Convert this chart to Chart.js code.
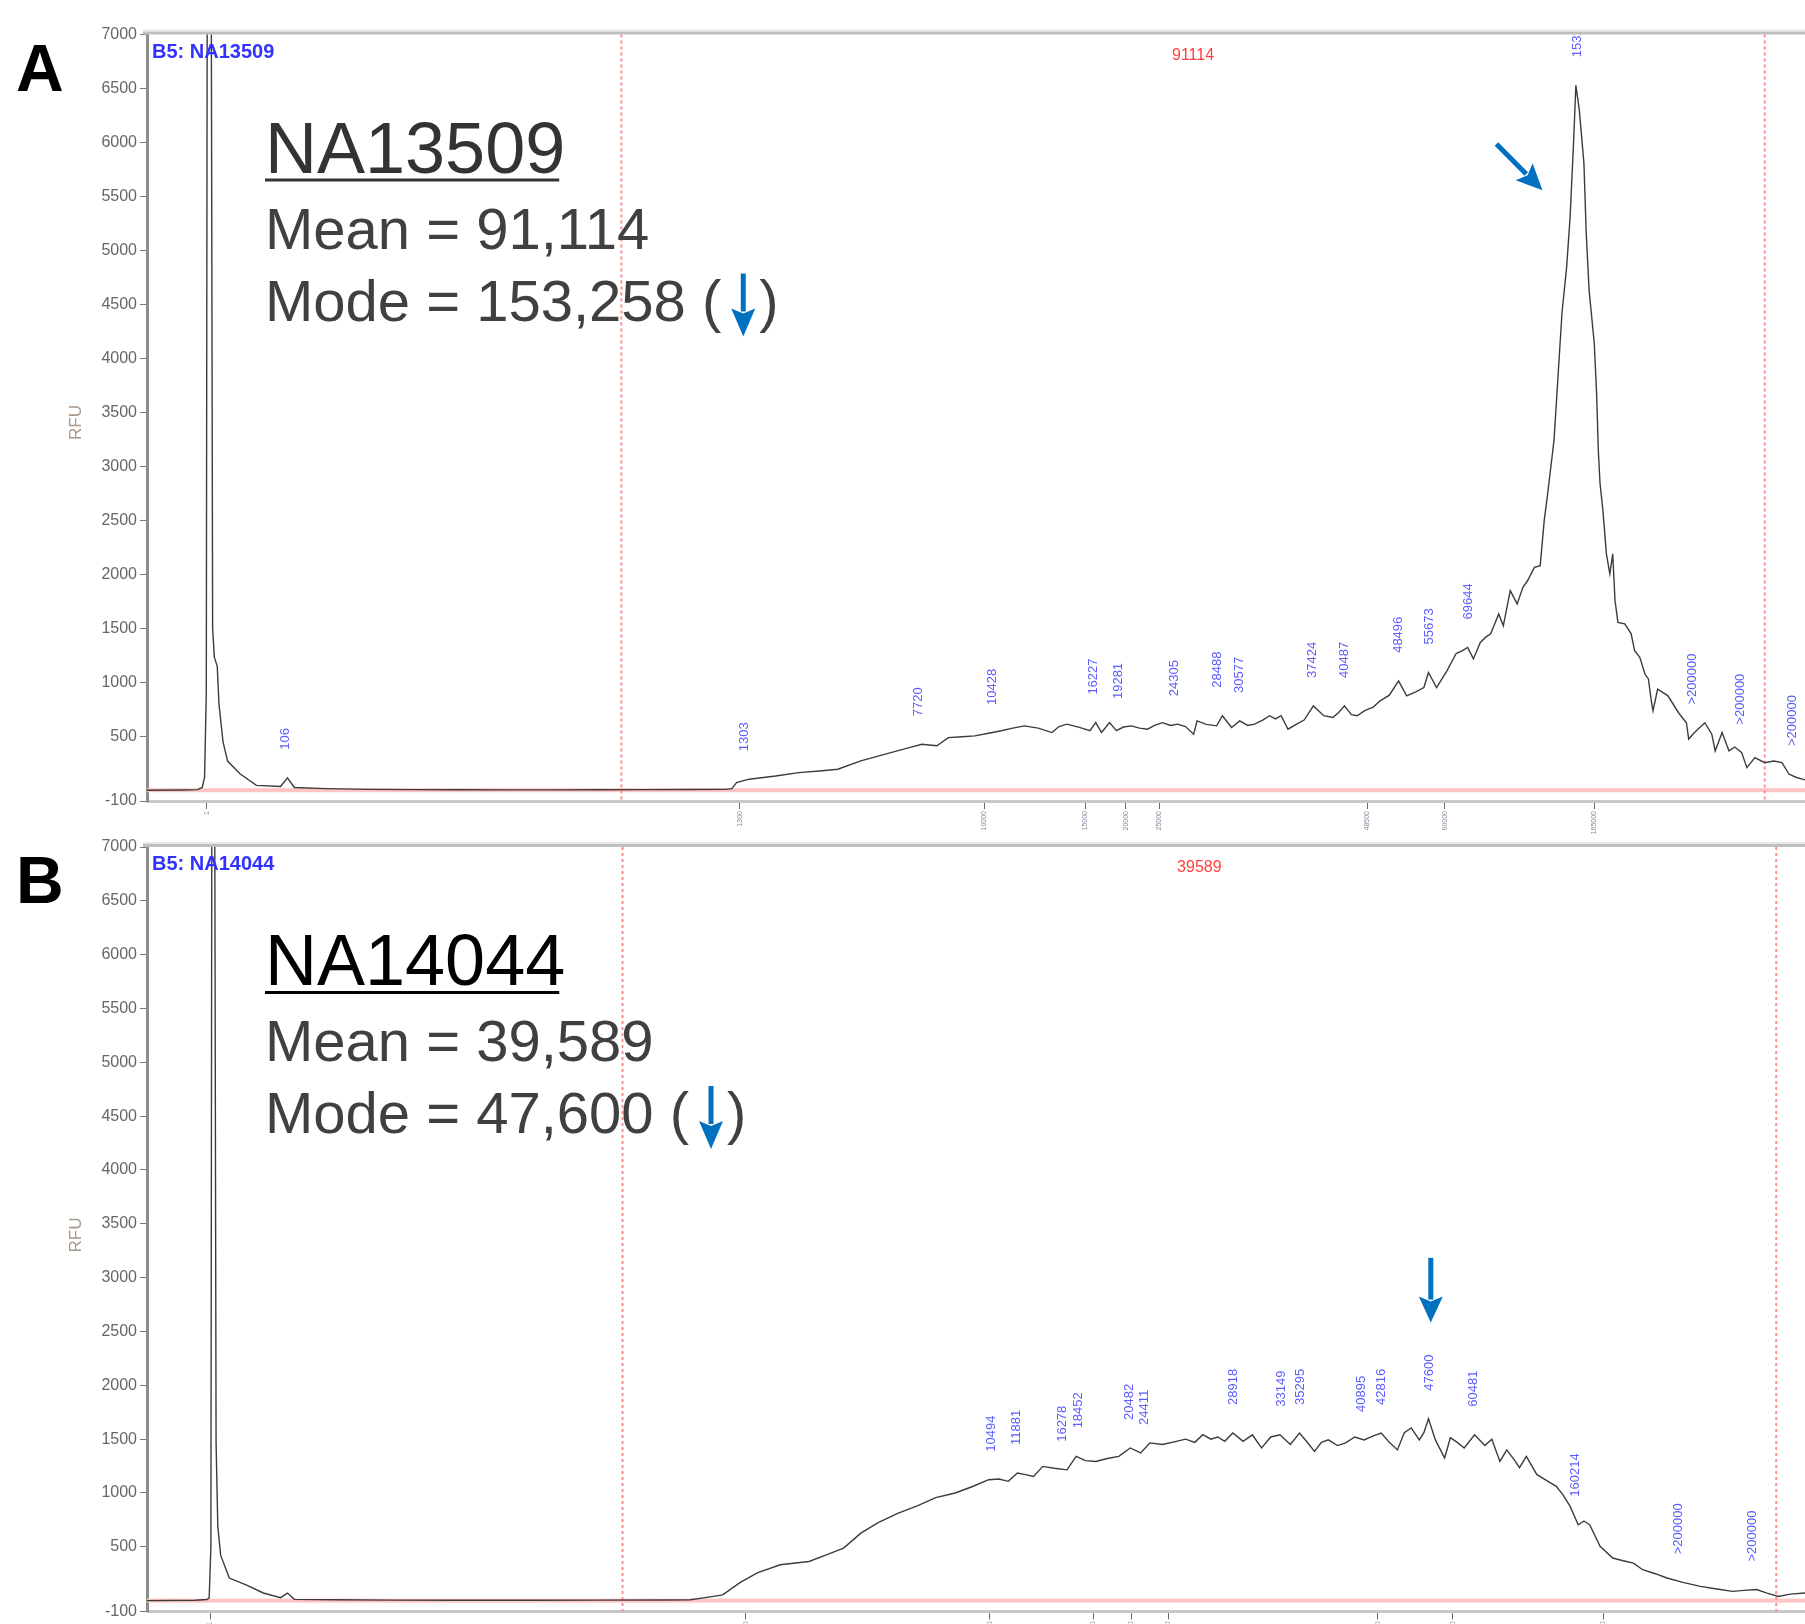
<!DOCTYPE html>
<html>
<head>
<meta charset="utf-8">
<title>NA13509 / NA14044 electropherograms</title>
<script src="https://cdn.jsdelivr.net/npm/chart.js@4.4.1/dist/chart.umd.min.js"></script>
<style>
  html, body { margin: 0; padding: 0; background: #fff; overflow: hidden; }
  #wrap { position: relative; width: 1805px; height: 1624px; }
  canvas { position: absolute; left: 0; }
  #chartA { top: 0; }
  #chartB { top: 812px; }
</style>
</head>
<body>
<div id="wrap">
  <canvas id="chartA" width="1805" height="845"></canvas>
  <canvas id="chartB" width="1805" height="812"></canvas>
</div>
<script>
// --- Datos comunes ---
const yTicks = [-100, 500, 1000, 1500, 2000, 2500, 3000, 3500, 4000, 4500, 5000, 5500, 6000, 6500, 7000];
const ladderLabels = ['1', '1300', '10000', '15000', '20000', '25000', '48500', '60000', '165000'];

// --- Panel A: NA13509 (x = tiempo de migración, y = RFU) ---
const traceXA = [128, 160, 172, 176, 178, 179.5, 180.5, 183.5, 185, 186.5, 189, 190.5, 194, 198, 209, 223, 244, 250, 256, 283,
  320, 360, 400, 440, 480, 520, 560, 600, 630, 636, 640, 651, 674, 694, 712, 728, 748, 774, 790, 801,
  814, 824, 836, 847, 860, 870, 880, 890, 902, 914, 920, 927, 937, 947, 952, 957, 964, 970, 976, 983,
  990, 997, 1003, 1010, 1017, 1023, 1030, 1037, 1040, 1048, 1057, 1062, 1070, 1077, 1084, 1090, 1097, 1103, 1108, 1113,
  1119, 1126, 1133, 1141, 1150, 1158, 1163, 1168, 1174, 1179, 1186, 1193, 1199, 1207, 1215, 1222, 1230, 1237, 1241, 1248,
  1257, 1265, 1270, 1275, 1280, 1286, 1291, 1295, 1302, 1306, 1312, 1318, 1323, 1327, 1333, 1338, 1341.5, 1344.5, 1350, 1354,
  1357, 1361, 1364, 1367, 1369, 1372, 1376, 1378, 1380.5, 1385, 1387, 1388.5, 1390, 1392.5, 1395.5, 1398.5, 1401, 1403, 1405.5, 1411.5,
  1417, 1420, 1424.5, 1429, 1432, 1434.5, 1436, 1440, 1449, 1458, 1465, 1467, 1472, 1481, 1487, 1490, 1496, 1502, 1507, 1513,
  1517.5, 1524.5, 1533, 1541, 1548, 1554, 1560, 1568];
const traceYA = [0, 2, 5, 25, 120, 900, 9000, 9000, 1500, 1230, 1150, 800, 450, 270, 150, 45, 35, 115, 25, 15,
  8, 5, 4, 3, 3, 4, 5, 6, 8, 15, 70, 102, 132, 163, 178, 194, 271, 348, 395, 426,
  412, 487, 495, 503, 530, 551, 575, 596, 575, 534, 590, 612, 585, 551, 626, 534, 626, 551, 585, 596,
  575, 565, 600, 626, 600, 612, 590, 519, 642, 610, 596, 690, 581, 642, 600, 612, 650, 690, 660, 690,
  565, 610, 650, 781, 690, 673, 720, 781, 700, 690, 740, 770, 828, 880, 1013, 874, 910, 951, 1090, 951,
  1106, 1266, 1290, 1323, 1216, 1369, 1420, 1448, 1633, 1523, 1849, 1726, 1880, 1940, 2064, 2080, 2497, 2746, 3240, 3920,
  4430, 4848, 5310, 6000, 6530, 6300, 5806, 5157, 4630, 4138, 3675, 3146, 2839, 2590, 2189, 2004, 2189, 1757, 1555, 1541,
  1448, 1292, 1230, 1076, 1031, 828, 736, 936, 874, 720, 625, 474, 534, 625, 521, 364, 534, 364, 400, 348,
  209, 302, 255, 270, 255, 150, 120, 95];
const peakXA = [248, 647, 798, 862, 950, 972, 1020, 1058, 1077, 1140, 1168, 1215, 1242, 1276, 1370, 1470, 1512, 1557];
const peakLabelsA = ['106', '1303', '7720', '10428', '16227', '19281', '24305', '28488', '30577', '37424', '40487',
  '48496', '55673', '69644', '153258', '>200000', '>200000', '>200000'];
const ladderXA = [180, 643, 855, 943, 978, 1007, 1188, 1255, 1385];
const rangeA = [540, 1533];
const modeArrowA = [[1300, 5985], [1340, 5558]];

// --- Panel B: NA14044 ---
const traceXB = [128, 170, 180, 182, 183.5, 184.5, 186.5, 188, 189.5, 192, 199.5, 214, 229, 244, 250, 256, 290, 340, 400, 460,
  520, 580, 600, 613, 628, 643, 658, 678, 703, 718, 733, 748, 763, 780, 797, 813, 830, 845, 859, 868,
  876, 884, 891, 898, 906, 916, 927, 935, 943, 952, 962, 972, 982, 991, 999, 1010, 1022, 1030, 1038, 1045,
  1052, 1058, 1064, 1071, 1080, 1088, 1096, 1104, 1112, 1121, 1129, 1135, 1142, 1148, 1154, 1162, 1169, 1177, 1185, 1193,
  1200, 1207, 1214, 1220, 1226, 1233, 1237, 1241, 1247, 1255, 1260, 1266, 1272, 1281, 1290, 1296, 1303, 1309, 1316, 1320,
  1326, 1335, 1343, 1352, 1358, 1364, 1371, 1376, 1381, 1390, 1401, 1410, 1419, 1427, 1438, 1448, 1462, 1477, 1490, 1505,
  1515, 1526, 1535, 1545, 1555, 1568];
const traceYB = [0, 3, 10, 25, 500, 9000, 9000, 1465, 690, 420, 210, 146, 71, 28, 70, 12, 8, 5, 4, 4,
  5, 6, 8, 28, 53, 167, 257, 333, 364, 425, 488, 627, 724, 810, 880, 957, 1000, 1060, 1123, 1130,
  1108, 1186, 1170, 1154, 1247, 1230, 1215, 1340, 1300, 1293, 1320, 1340, 1418, 1372, 1465, 1450, 1479, 1500, 1470, 1541,
  1500, 1520, 1480, 1557, 1480, 1540, 1418, 1520, 1541, 1450, 1557, 1480, 1386, 1470, 1493, 1440, 1465, 1520, 1493, 1530,
  1557, 1470, 1400, 1560, 1604, 1493, 1560, 1690, 1493, 1325, 1514, 1470, 1418, 1541, 1440, 1500, 1293, 1400, 1300, 1235,
  1340, 1172, 1120, 1061, 980, 875, 705, 740, 705, 504, 396, 370, 349, 287, 250, 210, 170, 132, 110, 86,
  95, 103, 70, 39, 60, 71];
const peakXB = [861, 883, 923, 937, 981, 994, 1072, 1113, 1130, 1183, 1200, 1242, 1280, 1369, 1458, 1522];
const peakLabelsB = ['10494', '11881', '16278', '18452', '20482', '24411', '28918', '33149', '35295', '40895',
  '42816', '47600', '60481', '160214', '>200000', '>200000'];
const ladderXB = [183, 648, 860, 950, 983, 1015, 1197, 1262, 1393];
const rangeB = [541, 1543];
const modeArrowB = [[1243, 3184], [1243, 2583]];

Chart.defaults.font.family = '"Liberation Sans", Arial, sans-serif';

const BLUE = '#0070c0';

// flecha con cuerpo y punta rellena (coordenadas en píxeles)
function drawArrow(ctx, x1, y1, x2, y2, shaft, headLen, headW) {
    const ang = Math.atan2(y2 - y1, x2 - x1);
    const bx = x2 - Math.cos(ang) * headLen, by = y2 - Math.sin(ang) * headLen;
    ctx.strokeStyle = BLUE;
    ctx.fillStyle = BLUE;
    ctx.lineWidth = shaft;
    ctx.beginPath();
    ctx.moveTo(x1, y1);
    ctx.lineTo(bx + Math.cos(ang) * 3, by + Math.sin(ang) * 3);
    ctx.stroke();
    const nx = -Math.sin(ang) * headW / 2, ny = Math.cos(ang) * headW / 2;
    ctx.beginPath();
    ctx.moveTo(x2, y2);
    ctx.lineTo(bx + nx, by + ny);
    ctx.lineTo(bx + Math.cos(ang) * 5, by + Math.sin(ang) * 5);
    ctx.lineTo(bx - nx, by - ny);
    ctx.closePath();
    ctx.fill();
}

// decoración de cada panel: línea base, rango, etiquetas de picos y textos
function decorPlugin(p) {
    const peakValue = (px) => {
        let best = -Infinity;
        p.x.forEach((v, i) => { if (Math.abs(v - px) <= 4) best = Math.max(best, p.y[i]); });
        return best;
    };
    return {
        id: 'decor',
        beforeDatasetsDraw(chart) {
            const { ctx, chartArea: a, scales: { x, y } } = chart;
            ctx.save();
            // marco superior
            ctx.fillStyle = '#e8e8e8';
            ctx.fillRect(a.left - 4, a.top - 5, a.right - a.left + 4, 2);
            ctx.fillStyle = '#bfbfbf';
            ctx.fillRect(a.left - 4, a.top - 3, a.right - a.left + 4, 3);
            // línea base rosa en 0 RFU
            const y0 = y.getPixelForValue(0);
            ctx.fillStyle = '#ffc4c4';
            ctx.fillRect(a.left, y0 - 2, a.right - a.left, 4);
            // límites del rango (rojo punteado)
            ctx.strokeStyle = '#ff8f8f';
            ctx.lineWidth = 2;
            ctx.setLineDash([3, 3]);
            p.range.forEach(v => {
                const px = x.getPixelForValue(v);
                ctx.beginPath();
                ctx.moveTo(px, a.top);
                ctx.lineTo(px, a.bottom);
                ctx.stroke();
            });
            ctx.setLineDash([]);
            // media del rango
            ctx.fillStyle = '#ff4040';
            ctx.font = '16px "Liberation Sans", Arial, sans-serif';
            ctx.textAlign = 'center';
            ctx.fillText(p.meanLabel, x.getPixelForValue((p.range[0] + p.range[1]) / 2), a.top + 25);
            ctx.restore();
        },
        afterDatasetsDraw(chart) {
            const { ctx, chartArea: a, scales: { x, y } } = chart;
            ctx.save();
            ctx.beginPath();
            ctx.rect(a.left, a.top, a.right - a.left, a.bottom - a.top);
            ctx.clip();
            // etiquetas de tamaño de los picos (azules, verticales)
            ctx.fillStyle = '#5c5cff';
            ctx.font = '13px "Liberation Sans", Arial, sans-serif';
            ctx.textAlign = 'left';
            ctx.textBaseline = 'middle';
            p.peakX.forEach((px, i) => {
                const cx = x.getPixelForValue(px);
                const cy = y.getPixelForValue(peakValue(px)) - 28;
                ctx.save();
                ctx.translate(cx, cy);
                ctx.rotate(-Math.PI / 2);
                ctx.fillText(p.peakLabels[i], 0, 0);
                ctx.restore();
            });
            ctx.restore();
            // flecha que señala la moda
            const [[fx, fy], [tx, ty]] = p.arrow;
            ctx.save();
            drawArrow(ctx, x.getPixelForValue(fx), y.getPixelForValue(fy), x.getPixelForValue(tx), y.getPixelForValue(ty), 5, 26, 24);
            ctx.restore();
        },
        afterDraw(chart) {
            const { ctx, chartArea: a } = chart;
            const t = a.top;
            ctx.save();
            ctx.textAlign = 'left';
            ctx.textBaseline = 'alphabetic';
            // letra del panel
            ctx.fillStyle = '#000';
            ctx.font = 'bold 66px "Liberation Sans", Arial, sans-serif';
            ctx.fillText(p.letter, 16, t + 56);
            // cabecera del pocillo
            ctx.fillStyle = '#3232ff';
            ctx.font = 'bold 20px "Liberation Sans", Arial, sans-serif';
            ctx.fillText(p.well, 152, t + 23);
            // nombre de la muestra subrayado
            ctx.fillStyle = p.nameColor;
            ctx.font = '72px "Liberation Sans", Arial, sans-serif';
            ctx.fillText(p.name, 265, t + 138);
            const nw = ctx.measureText(p.name).width;
            ctx.fillRect(265, t + 144, nw - 6, 3);
            // media y moda
            ctx.fillStyle = '#404040';
            ctx.font = '58px "Liberation Sans", Arial, sans-serif';
            ctx.fillText(p.mean, 265, t + 214);
            const modeBase = t + 286;
            const head = p.mode + ' (';
            ctx.fillText(head, 265, modeBase);
            const ax = 265 + ctx.measureText(head).width + 22;
            ctx.fillText(')', ax + 16, modeBase);
            drawArrow(ctx, ax, modeBase - 47, ax, modeBase + 16, 5, 28, 24);
            // título del eje Y
            ctx.fillStyle = '#a8988a';
            ctx.font = '17px "Liberation Sans", Arial, sans-serif';
            ctx.textAlign = 'center';
            ctx.textBaseline = 'middle';
            ctx.translate(76, t + 388);
            ctx.rotate(-Math.PI / 2);
            ctx.fillText('RFU', 0, 0);
            ctx.restore();
        }
    };
}

function buildPanel(canvasId, p) {
    const points = p.x.map((v, i) => ({ x: v, y: p.y[i] }));
    return new Chart(document.getElementById(canvasId), {
        type: 'line',
        data: {
            datasets: [{
                data: points,
                borderColor: '#3c3c3c',
                borderWidth: 1.4,
                pointRadius: 0,
                tension: 0,
                fill: false
            }]
        },
        options: {
            responsive: false, animation: false, devicePixelRatio: 1,
            parsing: false,
            layout: { padding: { top: p.top, left: 0, right: 0, bottom: 0 } },
            plugins: { legend: { display: false }, tooltip: { enabled: false } },
            scales: {
                x: {
                    type: 'linear', min: 128, max: 1568,
                    afterFit: (s) => { s.height = p.xAxisHeight; },
                    afterBuildTicks: (s) => { s.ticks = p.ladderX.map(v => ({ value: v })); },
                    ticks: {
                        autoSkip: false, minRotation: 90, maxRotation: 90, padding: 2,
                        font: { size: 7 }, color: '#7f8a99',
                        callback: (v, i) => ladderLabels[i]
                    },
                    grid: { drawOnChartArea: false, tickLength: 8, color: '#666', lineWidth: 1 },
                    border: { color: '#c8c8c8', width: 3 }
                },
                y: {
                    min: -100, max: 7000,
                    afterFit: (s) => { s.width = 147; },
                    afterBuildTicks: (s) => { s.ticks = yTicks.map(v => ({ value: v })); },
                    ticks: {
                        padding: 3, color: '#666',
                        font: { family: '"Liberation Sans Narrow", "Liberation Sans", sans-serif', size: 16 },
                        callback: (v) => String(v)
                    },
                    grid: { drawOnChartArea: false, tickLength: 7, color: '#777', lineWidth: 1 },
                    border: { color: '#8c8c8c', width: 3 }
                }
            }
        },
        plugins: [decorPlugin(p)]
    });
}

document.addEventListener('DOMContentLoaded', function () {
    buildPanel('chartA', {
        x: traceXA, y: traceYA, peakX: peakXA, peakLabels: peakLabelsA, ladderX: ladderXA,
        range: rangeA, arrow: modeArrowA, meanLabel: '91114',
        letter: 'A', well: 'B5: NA13509', name: 'NA13509', nameColor: '#333',
        mean: 'Mean = 91,114', mode: 'Mode = 153,258',
        top: 34.5, xAxisHeight: 44
    });
    buildPanel('chartB', {
        x: traceXB, y: traceYB, peakX: peakXB, peakLabels: peakLabelsB, ladderX: ladderXB,
        range: rangeB, arrow: modeArrowB, meanLabel: '39589',
        letter: 'B', well: 'B5: NA14044', name: 'NA14044', nameColor: '#000',
        mean: 'Mean = 39,589', mode: 'Mode = 47,600',
        top: 35, xAxisHeight: 12
    });
});
</script>
</body>
</html>
